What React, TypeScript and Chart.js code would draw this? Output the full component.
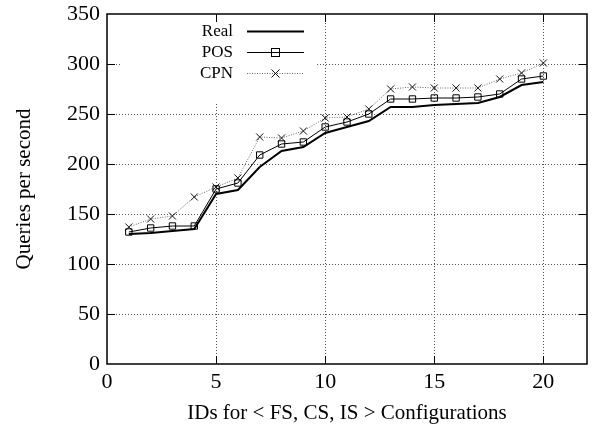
import { useEffect, useRef } from "react";
import { Chart, registerables } from "chart.js";

Chart.register(...registerables);

// ---- data ----
const ids = [1, 2, 3, 4, 5, 6, 7, 8, 9, 10, 11, 12, 13, 14, 15, 16, 17, 18, 19, 20];
const realValues = [130, 131, 133, 135, 170, 174, 197, 213, 217, 231, 237, 243, 257, 257, 259, 260, 261, 267, 279, 282];
const posValues = [132, 136, 138, 138, 175, 181, 209, 220, 222, 237, 242, 250, 265, 265, 266, 266, 267, 270, 285, 288];
const cpnValues = [137, 145, 148, 167, 177, 186, 227, 226, 233, 246, 247, 255, 275, 277, 276, 276, 276, 285, 291, 301];
const seriesNames = ["Real", "POS", "CPN"];
const xTicks = [0, 5, 10, 15, 20];
const yTicks = [0, 50, 100, 150, 200, 250, 300, 350];
const xTitle = "IDs for < FS, CS, IS > Configurations";
const yTitle = "Queries per second";

const FONT = "'Liberation Serif', 'DejaVu Serif', serif";

const toPoints = (vals: number[]) => ids.map((x, i) => ({ x, y: vals[i] }));

const framePlugin = {
  id: "gnuplotFrame",
  beforeDatasetsDraw(chart: any) {
    const { ctx, chartArea: a, scales } = chart;
    const xs = scales.x;
    const ys = scales.y;
    ctx.save();
    // dotted grid
    ctx.strokeStyle = "#555";
    ctx.lineWidth = 1;
    ctx.setLineDash([1, 2]);
    xTicks.forEach((v) => {
      const px = Math.round(xs.getPixelForValue(v)) + 0.5;
      if (v <= xs.min || v >= xs.max) return;
      ctx.beginPath();
      ctx.moveTo(px, a.top);
      ctx.lineTo(px, a.bottom);
      ctx.stroke();
    });
    yTicks.forEach((v) => {
      if (v <= ys.min || v >= ys.max) return;
      const py = Math.round(ys.getPixelForValue(v)) + 0.5;
      ctx.beginPath();
      ctx.moveTo(a.left, py);
      ctx.lineTo(a.right, py);
      ctx.stroke();
    });
    ctx.setLineDash([]);
    // legend box (opaque)
    const bx = a.left + 13;
    const by = a.top + 1;
    ctx.fillStyle = "#fff";
    ctx.fillRect(bx, by, 196, 88);
    // legend entries
    ctx.font = `17px ${FONT}`;
    ctx.fillStyle = "#000";
    ctx.textAlign = "right";
    ctx.textBaseline = "middle";
    const textX = a.left + 126;
    const l0 = a.left + 140;
    const l1 = a.left + 197;
    const mx = (l0 + l1) / 2;
    const rows = [a.top + 17, a.top + 38, a.top + 59];
    seriesNames.forEach((name, i) => {
      const y = rows[i];
      ctx.fillText(name, textX, y + 1);
      ctx.beginPath();
      if (i === 0) {
        ctx.strokeStyle = "#000";
        ctx.lineWidth = 2;
      } else if (i === 1) {
        ctx.strokeStyle = "#000";
        ctx.lineWidth = 1;
      } else {
        ctx.strokeStyle = "#666";
        ctx.lineWidth = 1;
        ctx.setLineDash([1, 1.5]);
      }
      ctx.moveTo(l0, y + 0.5);
      ctx.lineTo(l1, y + 0.5);
      ctx.stroke();
      ctx.setLineDash([]);
      if (i === 1) {
        ctx.strokeStyle = "#000";
        ctx.lineWidth = 1;
        ctx.strokeRect(mx - 4, y - 3.5, 8, 8);
      } else if (i === 2) {
        ctx.strokeStyle = "#111";
        ctx.lineWidth = 1;
        ctx.beginPath();
        ctx.moveTo(mx - 4, y - 3.5);
        ctx.lineTo(mx + 4, y + 4.5);
        ctx.moveTo(mx + 4, y - 3.5);
        ctx.lineTo(mx - 4, y + 4.5);
        ctx.stroke();
      }
    });
    ctx.restore();
  },
  afterDatasetsDraw(chart: any) {
    const { ctx, chartArea: a, scales } = chart;
    const xs = scales.x;
    const ys = scales.y;
    ctx.save();
    ctx.strokeStyle = "#000";
    ctx.lineWidth = 1;
    const t = 8;
    xTicks.forEach((v) => {
      if (v <= xs.min || v >= xs.max) return;
      const px = Math.round(xs.getPixelForValue(v)) + 0.5;
      ctx.beginPath();
      ctx.moveTo(px, a.bottom);
      ctx.lineTo(px, a.bottom - t);
      ctx.moveTo(px, a.top);
      ctx.lineTo(px, a.top + t);
      ctx.stroke();
    });
    yTicks.forEach((v) => {
      if (v <= ys.min || v >= ys.max) return;
      const py = Math.round(ys.getPixelForValue(v)) + 0.5;
      ctx.beginPath();
      ctx.moveTo(a.left, py);
      ctx.lineTo(a.left + t, py);
      ctx.moveTo(a.right, py);
      ctx.lineTo(a.right - t, py);
      ctx.stroke();
    });
    ctx.lineWidth = 1.5;
    ctx.strokeRect(a.left, a.top, a.right - a.left, a.bottom - a.top);
    ctx.restore();
  },
};

export default function App() {
  const ref = useRef<HTMLCanvasElement | null>(null);
  useEffect(() => {
    document.body.style.margin = "0";
    document.body.style.overflow = "hidden";
    const canvas = ref.current;
    if (!canvas) return;
    const chart = new Chart(canvas, {
      type: "line",
      data: {
        datasets: [
          {
            label: seriesNames[0],
            data: toPoints(realValues),
            borderColor: "#000",
            borderWidth: 2,
            pointRadius: 0,
            fill: false,
          },
          {
            label: seriesNames[1],
            data: toPoints(posValues),
            borderColor: "#000",
            borderWidth: 1,
            pointStyle: "rect",
            pointRadius: 4.5,
            pointBorderWidth: 1,
            pointBorderColor: "#000",
            pointBackgroundColor: "rgba(0,0,0,0)",
            fill: false,
          },
          {
            label: seriesNames[2],
            data: toPoints(cpnValues),
            borderColor: "#666",
            borderWidth: 1,
            borderDash: [1, 1.5],
            pointStyle: "crossRot",
            pointRadius: 5,
            pointBorderWidth: 1,
            pointBorderColor: "#111",
            fill: false,
          },
        ],
      },
      options: {
        animation: false,
        responsive: false,
        layout: { padding: { top: 14, right: 8, left: 0, bottom: 0 } },
        plugins: { legend: { display: false }, tooltip: { enabled: false } },
        scales: {
          x: {
            type: "linear",
            min: 0,
            max: 22,
            afterBuildTicks: (s: any) => {
              s.ticks = xTicks.map((v) => ({ value: v }));
            },
            afterFit: (s: any) => {
              s.height = 64;
              s.paddingLeft = 0;
              s.paddingRight = 0;
            },
            grid: { display: false, drawTicks: false },
            border: { display: false },
            ticks: {
              color: "#000",
              font: { family: FONT, size: 22 },
              padding: 5,
              maxRotation: 0,
            },
            title: {
              display: true,
              text: xTitle,
              color: "#000",
              font: { family: FONT, size: 21 },
              padding: { bottom: 2, top: 0 },
            },
          },
          y: {
            type: "linear",
            min: 0,
            max: 350,
            afterBuildTicks: (s: any) => {
              s.ticks = yTicks.map((v) => ({ value: v }));
            },
            afterFit: (s: any) => {
              s.width = 107;
              s.paddingTop = 0;
              s.paddingBottom = 0;
            },
            grid: { display: false, drawTicks: false },
            border: { display: false },
            ticks: {
              color: "#000",
              font: { family: FONT, size: 22 },
              padding: 7,
            },
            title: {
              display: true,
              text: yTitle,
              color: "#000",
              font: { family: FONT, size: 21 },
              padding: { top: 12, bottom: 0 },
            },
          },
        },
      },
      plugins: [framePlugin],
    });
    return () => chart.destroy();
  }, []);
  return <canvas ref={ref} width={595} height={428} style={{ display: "block" }} />;
}
